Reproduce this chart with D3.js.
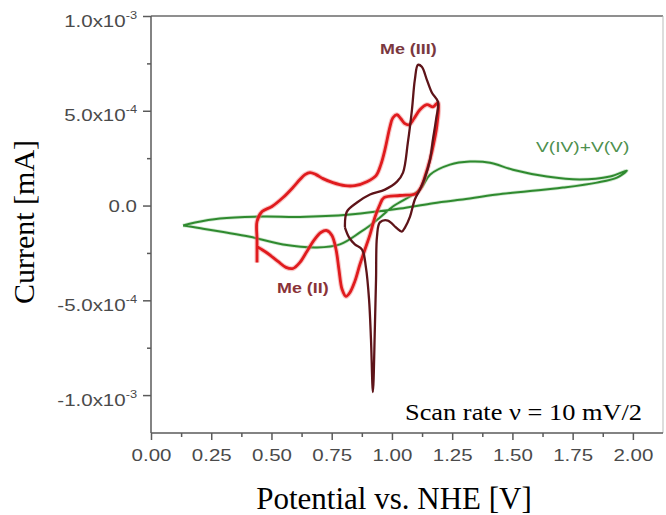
<!DOCTYPE html>
<html>
<head>
  <title>Cyclic voltammetry</title>
  <script src="https://d3js.org/d3.v7.min.js"></script>
  <style>
    body { margin: 0; background: #fff; }
    .axis path, .axis line { stroke: #5a5a5a; stroke-width: 1.5; }
    .tlabel { font-family: "Liberation Sans", Arial, sans-serif; fill: #4a4a4a; }
    .title { font-family: "Liberation Serif", "Times New Roman", serif; fill: #000; }
  </style>
</head>
<body>
  <div id="chart"></div>
  <script>
    // tick values / labels
    const xTicks = [0, 0.25, 0.5, 0.75, 1.0, 1.25, 1.5, 1.75, 2.0];
    const xMinor = [0.125, 0.375, 0.625, 0.875, 1.125, 1.375, 1.625, 1.875];
    const yTicks = [1e-3, 5e-4, 0, -5e-4, -1e-3];
    const yTickMant = ["1.0x10", "5.0x10", "0.0", "-5.0x10", "-1.0x10"];
    const yTickExp = ["-3", "-4", "", "-4", "-3"];
    const yMinor = [7.5e-4, 2.5e-4, -2.5e-4, -7.5e-4];

    // V(IV)+V(V) loop (current in 1e-4 mA)
    const greenV = [0.133, 0.183, 0.286, 0.465, 0.618, 0.826, 1.033, 1.158, 1.282, 1.436, 1.710, 1.851, 1.934, 1.975,
      1.905, 1.780, 1.643, 1.502, 1.407, 1.324, 1.241, 1.158, 1.116, 1.004, 0.950, 0.909, 0.867, 0.784, 0.689, 0.548,
      0.411, 0.300, 0.216, 0.162, 0.133];
    const greenI = [-1.05, -0.89, -0.68, -0.58, -0.6, -0.47, -0.16, 0.1, 0.3, 0.58, 0.95, 1.21, 1.47, 1.84,
      1.53, 1.37, 1.53, 1.89, 2.26, 2.32, 2.16, 1.63, 0.84, -0.05, -0.63, -1.05, -1.42, -2.05, -2.21, -2.05,
      -1.65, -1.4, -1.22, -1.1, -1.05];

    // red loop (Me(II))
    const redV = [0.440, 0.440, 0.440, 0.461, 0.502, 0.548, 0.589, 0.618, 0.639, 0.660, 0.685, 0.714, 0.755, 0.805,
      0.846, 0.896, 0.934, 0.954, 0.971, 0.992, 1.004, 1.021, 1.037, 1.054, 1.071, 1.091, 1.116, 1.145, 1.170, 1.191,
      1.187, 1.174, 1.158, 1.137, 1.120, 1.100, 1.033, 0.967, 0.950, 0.929, 0.909, 0.888, 0.867, 0.846, 0.826, 0.809,
      0.793, 0.780, 0.768, 0.751, 0.730, 0.705, 0.676, 0.647, 0.618, 0.589, 0.560, 0.527, 0.485, 0.452, 0.440];
    const redI = [-3.0, -1.79, -0.84, -0.32, -0.05, 0.42, 0.95, 1.37, 1.63, 1.74, 1.63, 1.42, 1.21, 1.05,
      1.05, 1.26, 1.58, 2.16, 2.95, 4.16, 4.63, 4.79, 4.58, 4.32, 4.26, 4.58, 5.05, 5.32, 5.21, 5.42,
      4.26, 3.32, 2.42, 1.53, 0.95, 0.63, 0.53, 0.42, 0.05, -0.63, -1.53, -2.32, -3.11, -4.0, -4.58, -4.79,
      -4.42, -3.37, -2.32, -1.58, -1.32, -1.42, -1.84, -2.42, -3.0, -3.32, -3.26, -2.95, -2.53, -2.26, -2.16];

    // dark loop (Me(III))
    const darkV = [0.805, 0.813, 0.855, 0.909, 0.971, 1.021, 1.046, 1.066, 1.083, 1.095, 1.108, 1.124, 1.145, 1.166,
      1.191, 1.183, 1.170, 1.158, 1.137, 1.116, 1.095, 1.075, 1.054, 1.041, 1.017, 0.983, 0.950, 0.938, 0.934, 0.929,
      0.921, 0.913, 0.905, 0.892, 0.876, 0.846, 0.822, 0.805];
    const darkI = [-1.16, -0.32, 0.16, 0.58, 0.84, 1.26, 1.74, 3.32, 5.05, 6.63, 7.42, 7.32, 6.63, 5.95,
      5.47, 4.53, 3.47, 2.42, 1.47, 0.84, 0.32, -0.58, -1.16, -1.37, -1.16, -0.79, -0.89, -1.63, -3.89, -6.53,
      -9.84, -7.05, -4.95, -3.26, -2.32, -2.05, -1.68, -1.16];

    const W = 666, H = 515;
    const plotLeft = 151, plotRight = 663, plotTop = 16, plotBottom = 433;
    const stretch = 1.28; // tick text is horizontally stretched in the original

    const svg = d3.select("#chart").append("svg")
      .attr("width", W).attr("height", H);

    const x = d3.scaleLinear().domain([0, 2.125]).range([plotLeft, plotRight]);
    const y = d3.scaleLinear().domain([-1.2e-3, 1.0e-3]).range([plotBottom, plotTop]);

    // frame (top + right)
    svg.append("line").attr("x1", plotLeft).attr("x2", plotRight).attr("y1", plotTop).attr("y2", plotTop)
      .attr("stroke", "#6a6a6a").attr("stroke-width", 1.5);
    svg.append("line").attr("x1", plotRight).attr("x2", plotRight).attr("y1", plotTop).attr("y2", plotBottom)
      .attr("stroke", "#bbb").attr("stroke-width", 1);

    // x axis
    const gx = svg.append("g").attr("class", "axis")
      .attr("transform", "translate(0," + plotBottom + ")")
      .call(d3.axisBottom(x).tickValues(xTicks).tickFormat(d3.format(".2f")).tickSize(7).tickPadding(10));
    gx.select(".domain").attr("d", "M" + plotLeft + ",0H" + plotRight);
    gx.selectAll("text").attr("class", "tlabel").attr("font-size", 16)
      .attr("transform", "scale(" + stretch + ",1)");
    svg.append("g").attr("class", "axis")
      .attr("transform", "translate(0," + plotBottom + ")")
      .call(d3.axisBottom(x).tickValues(xMinor).tickFormat("").tickSize(4))
      .select(".domain").remove();

    // y axis
    const gy = svg.append("g").attr("class", "axis")
      .attr("transform", "translate(" + plotLeft + ",0)")
      .call(d3.axisLeft(y).tickValues(yTicks).tickFormat("").tickSize(8));
    gy.select(".domain").attr("d", "M0," + plotTop + "V" + plotBottom);
    svg.append("g").attr("class", "axis")
      .attr("transform", "translate(" + plotLeft + ",0)")
      .call(d3.axisLeft(y).tickValues(yMinor).tickFormat("").tickSize(4))
      .select(".domain").remove();

    yTicks.forEach(function(v, i) {
      const g = svg.append("g")
        .attr("transform", "translate(137," + (y(v) + (yTickExp[i] ? 10.5 : 6.5)) + ") scale(" + stretch + ",1)");
      const t = g.append("text").attr("class", "tlabel").attr("text-anchor", "end").attr("font-size", 16);
      t.append("tspan").text(yTickMant[i]);
      if (yTickExp[i]) {
        t.append("tspan").attr("font-size", 10).attr("dy", -8).text(yTickExp[i]);
      }
    });

    // curves
    const line = d3.line()
      .x(d => x(d[0]))
      .y(d => y(d[1] * 1e-4))
      .curve(d3.curveCatmullRom.alpha(0.5));

    const green = d3.zip(greenV, greenI);
    const red = d3.zip(redV, redI);
    const dark = d3.zip(darkV, darkI);

    svg.append("path").datum(green).attr("d", line)
      .attr("fill", "none").attr("stroke", "#9fd09f").attr("stroke-width", 3.5).attr("opacity", 0.5);
    svg.append("path").datum(green).attr("d", line)
      .attr("fill", "none").attr("stroke", "#2f8a2f").attr("stroke-width", 2);

    svg.append("path").datum(red).attr("d", line)
      .attr("fill", "none").attr("stroke", "#f08080").attr("stroke-width", 5).attr("opacity", 0.45);
    svg.append("path").datum(red).attr("d", line)
      .attr("fill", "none").attr("stroke", "#e01b1e").attr("stroke-width", 2.8);

    svg.append("path").datum(dark).attr("d", line)
      .attr("fill", "none").attr("stroke", "#5e1419").attr("stroke-width", 2.3);

    // annotations
    function note(txt, px, py, size, color, weight) {
      svg.append("g").attr("transform", "translate(" + px + "," + py + ") scale(" + stretch + ",1)")
        .append("text").attr("class", "tlabel")
        .attr("font-size", size).attr("font-weight", weight)
        .style("fill", color).text(txt);
    }
    note("Me (III)", 380, 54, 14, "#7a3840", "bold");
    note("Me (II)", 277, 293, 14, "#8a3338", "bold");
    note("V(IV)+V(V)", 536, 152, 15, "#4e8f4e", "normal");

    svg.append("text").attr("class", "title")
      .attr("x", 405).attr("y", 420).attr("font-size", 23)
      .attr("textLength", 237).attr("lengthAdjust", "spacingAndGlyphs")
      .text("Scan rate \u03bd = 10 mV/2");

    // axis titles
    svg.append("text").attr("class", "title")
      .attr("x", 394).attr("y", 509).attr("text-anchor", "middle").attr("font-size", 31)
      .text("Potential vs. NHE [V]");

    svg.append("text").attr("class", "title")
      .attr("transform", "translate(34,222) rotate(-90)")
      .attr("text-anchor", "middle").attr("font-size", 30)
      .text("Current [mA]");
  </script>
</body>
</html>
